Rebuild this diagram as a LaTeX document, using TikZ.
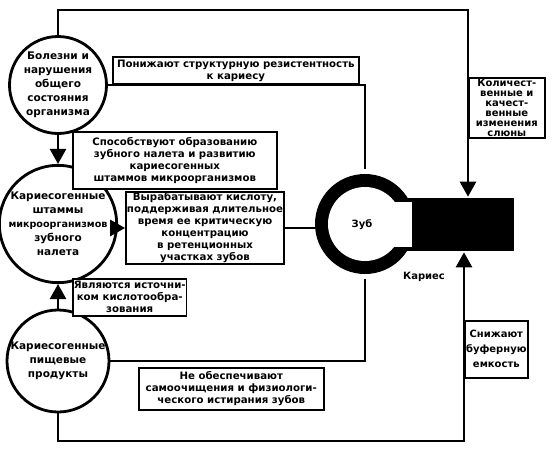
\documentclass[tikz,border=0pt]{standalone}
\usepackage{fontspec}
\setmainfont{DejaVu Sans}
\usetikzlibrary{positioning, arrows.meta}
\tikzset{
        ->, % every connector is directed
        >={Triangle[length=15pt, width=16pt]}, % big filled heads
        factor/.style={circle, draw, line width=2.8pt, minimum size=97pt, inner sep=0pt, align=center,
                font=\bfseries\fontsize{10.5}{14}\selectfont}, % the three causes
        effect/.style={rectangle, draw, line width=1.6pt, fill=white, inner sep=1pt, align=center,
                font=\bfseries\fontsize{10.2}{12}\selectfont}, % labels on the connectors
        }

\begin{document}
\begin{tikzpicture}[x=1pt, y=-1pt, line width=2.6pt]
        \useasboundingbox (0,0) rectangle (552,450);
        % causes
        \node[factor] (Bolezni) at (58,85) {Болезни и\\нарушения\\общего\\состояния\\организма};
        \node[factor] (Shtammy) at (58,224) {Кариесогенные\\штаммы\\{\fontsize{9.6}{14}\selectfont микроорганизмов}\\зубного\\налета};
        \node[factor] (Produkty) at (58,361) {Кариесогенные\\пищевые\\продукты};

        % tooth and caries
        \node[circle, fill=black, minimum size=100pt, inner sep=0pt] (Zub) at (365,224) {};
        \node[rectangle, fill=black, minimum width=110pt, minimum height=53pt, inner sep=0pt] (Karies) at (459,224.5) {};
        \node[circle, fill=white, minimum size=74pt, inner sep=0pt] (ZubIn) at (Zub) {};
        \fill[white] (370,202) rectangle (412,247);
        \node[font=\bfseries\fontsize{10}{12}\selectfont] at (362,225) {Зуб};
        \node[font=\bfseries\fontsize{10}{12}\selectfont] at (424,277) {Кариес};

        \coordinate (TopL) at (58,10);
        \coordinate (TopR) at (468,10);
        \coordinate (BotL) at (58,441);
        \coordinate (BotR) at (464,441);

        \draw (Bolezni.north) -- (TopL) -- (TopR) -- (TopR |- Karies.north);
        \draw[-] (Bolezni.east) -| ([yshift=4pt]Zub.north);
        \draw (Bolezni.south) -- (Shtammy.north);
        \draw (Produkty.north) -- (Shtammy.south);
        \draw[-] (Produkty.east) -| ([yshift=-4pt]Zub.south);
        \draw (Produkty.south) -- (BotL) -- (BotR) -- (BotR |- Karies.south);

        % labels
        \node[effect, minimum width=246pt, minimum height=27pt, anchor=south west] (Ponizh) at (112,85)
                {Понижают структурную резистентность\\к кариесу};
        \node[effect, minimum width=204pt, minimum height=57pt, anchor=north west] (Sposob) at (72,131)
                {Способствуют образованию\\зубного налета и развитию\\кариесогенных\\штаммов микроорганизмов};
        \node[effect, minimum width=158pt, minimum height=70pt] (Vyrab) at (205,228)
                {Вырабатывают кислоту,\\поддерживая длительное\\время ее критическую\\концентрацию\\в ретенционных\\участках зубов};
        \node[effect, minimum width=113pt, minimum height=37pt, anchor=north west] (Istoch) at (72,278)
                {Являются источни-\\ком кислотообра-\\зования};
        \node[effect, minimum width=185pt, minimum height=42pt, anchor=north west] (Samooch) at (138,367)
                {Не обеспечивают\\самоочищения и физиологи-\\ческого истирания зубов};
        \node[effect, minimum width=76pt, minimum height=60pt, anchor=north west,
                font=\bfseries\fontsize{10}{10}\selectfont] (Sluna) at (468,77)
                {Количест-\\венные и\\качест-\\венные\\изменения\\слюны};
        \node[effect, minimum width=63pt, minimum height=57pt, anchor=north west,
                font=\bfseries\fontsize{10}{15}\selectfont] (Bufer) at (464,320)
                {Снижают\\буферную\\емкость};

        \draw (Shtammy.east |- Vyrab.west) -- (Vyrab.west);
        \draw[-] (Vyrab.east) -- ([xshift=4pt]Zub.west |- Vyrab.east);
\end{tikzpicture}
\end{document}
